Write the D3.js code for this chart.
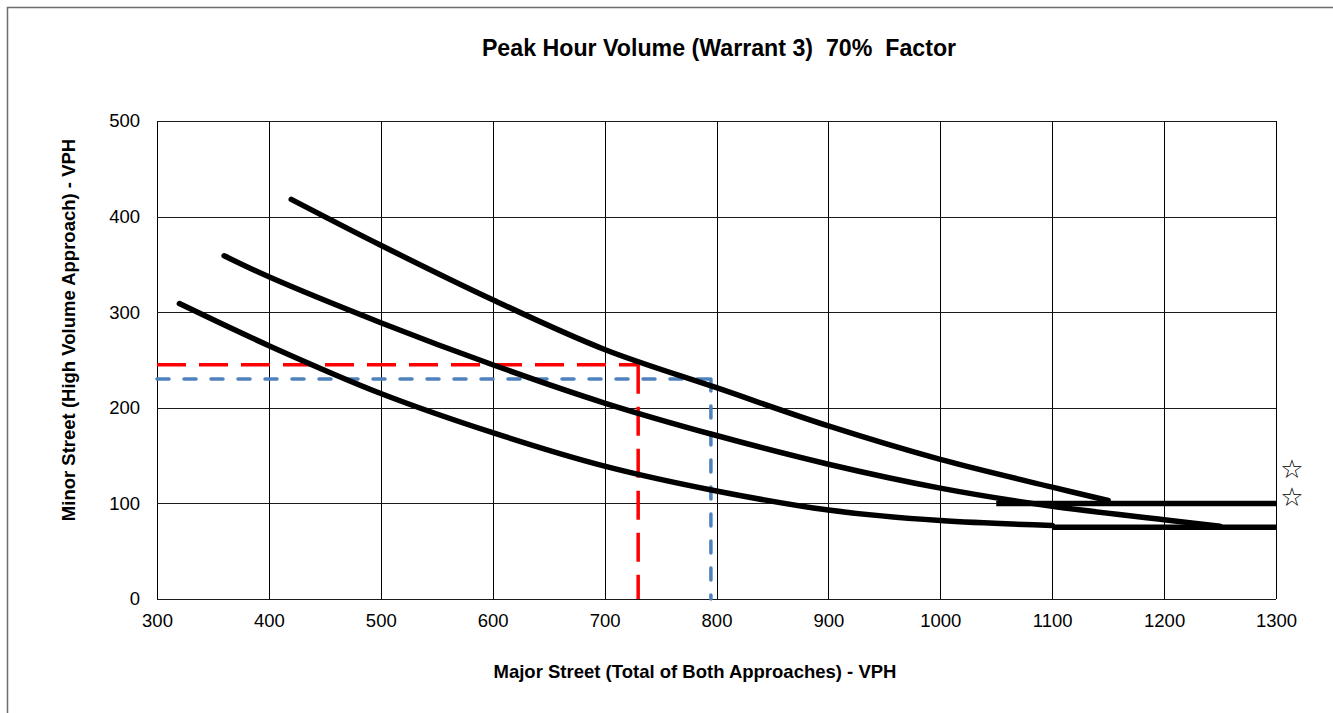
<!DOCTYPE html>
<html>
<head>
<meta charset="utf-8">
<script src="https://cdn.jsdelivr.net/npm/d3@7"></script>
<style>
  html, body { margin: 0; padding: 0; background: #fff; }
  svg { display: block; font-family: Arial, Helvetica, sans-serif; }
</style>
</head>
<body>
<svg id="chart" width="1333" height="713"></svg>
<script>
// Warrant 3 peak-hour threshold curves (70% factor), VPH
const xTicks = [300, 400, 500, 600, 700, 800, 900, 1000, 1100, 1200, 1300];
const yTicks = [0, 100, 200, 300, 400, 500];

// 2 or more lanes & 2 or more lanes
const curveTopMajor = [420, 500, 600, 700, 800, 900, 1000, 1100, 1150];
const curveTopMinor = [418, 370, 313, 261, 221, 181, 146, 117, 103];
// 2 or more lanes & 1 lane
const curveMidMajor = [360, 400, 500, 600, 700, 800, 900, 1000, 1100, 1200, 1250];
const curveMidMinor = [359, 337, 289, 245, 205, 171, 141, 116, 97, 83, 76];
// 1 lane & 1 lane
const curveLowMajor = [320, 400, 500, 600, 700, 800, 900, 1000, 1100];
const curveLowMinor = [309, 265, 215, 174, 139, 113, 93, 82, 77];

// minimum minor-street thresholds
const floorHighMajor = [1050, 1300];
const floorHighMinor = [100, 100];
const floorLowMajor = [1100, 1300];
const floorLowMinor = [75, 75];

// plotted study points
const pointRed = { major: 730, minor: 245 };
const pointBlue = { major: 795, minor: 230 };

const FONT = "Arial, Helvetica, sans-serif";
const svg = d3.select("#chart");

// outer frame
svg.append("rect")
  .attr("x", 7.5).attr("y", 7.5)
  .attr("width", 1340).attr("height", 720)
  .attr("fill", "none").attr("stroke", "#6e6e6e").attr("stroke-width", 1.5);

const x = d3.scaleLinear().domain([300, 1300]).range([157, 1276]);
const y = d3.scaleLinear().domain([0, 500]).range([599, 121]);

// grid
const grid = svg.append("g");
grid.selectAll("line.v").data(xTicks).join("line")
  .attr("class", "v")
  .attr("x1", d => Math.round(x(d)) + 0.5).attr("x2", d => Math.round(x(d)) + 0.5)
  .attr("y1", y(0)).attr("y2", y(500))
  .attr("stroke", "#000").attr("stroke-width", 1);
grid.selectAll("line.h").data(yTicks).join("line")
  .attr("class", "h")
  .attr("y1", d => Math.round(y(d)) + 0.5).attr("y2", d => Math.round(y(d)) + 0.5)
  .attr("x1", x(300)).attr("x2", x(1300))
  .attr("stroke", "#1a1a1a").attr("stroke-width", 1);

// tick labels via d3 axes (no domain / tick lines)
const xAxis = svg.append("g")
  .attr("transform", `translate(0,${y(0)})`)
  .call(d3.axisBottom(x).tickValues(xTicks).tickSize(0).tickPadding(15).tickFormat(d3.format("d")));
const yAxis = svg.append("g")
  .attr("transform", `translate(${x(300)},0)`)
  .call(d3.axisLeft(y).tickValues(yTicks).tickSize(0).tickPadding(17).tickFormat(d3.format("d")));
[xAxis, yAxis].forEach(a => {
  a.select(".domain").remove();
  a.attr("font-family", FONT).attr("font-size", 18.5);
  a.selectAll("text").attr("fill", "#000");
});

// dashed guides
const guide = (pt, color, dash, cap, width) => {
  const g = svg.append("g");
  g.append("line")
    .attr("x1", x(300)).attr("x2", x(pt.major))
    .attr("y1", y(pt.minor)).attr("y2", y(pt.minor))
    .attr("stroke", color).attr("stroke-width", width)
    .attr("stroke-dasharray", dash).attr("stroke-linecap", cap);
  g.append("line")
    .attr("x1", x(pt.major)).attr("x2", x(pt.major))
    .attr("y1", y(pt.minor)).attr("y2", y(0))
    .attr("stroke", color).attr("stroke-width", width)
    .attr("stroke-dasharray", dash).attr("stroke-linecap", cap);
};
guide(pointRed, "#ff0000", "29,13", "butt", 3.5);
guide(pointBlue, "#4f81bd", "12,15", "round", 3.5);

// threshold curves
const smooth = d3.line().x(d => x(d[0])).y(d => y(d[1])).curve(d3.curveCatmullRom.alpha(0.5));
const curves = [
  d3.zip(curveTopMajor, curveTopMinor),
  d3.zip(curveMidMajor, curveMidMinor),
  d3.zip(curveLowMajor, curveLowMinor),
  d3.zip(floorHighMajor, floorHighMinor),
  d3.zip(floorLowMajor, floorLowMinor)
];
svg.append("g").selectAll("path").data(curves).join("path")
  .attr("d", smooth)
  .attr("fill", "none").attr("stroke", "#000")
  .attr("stroke-width", 5.5)
  .attr("stroke-linecap", (d, i) => i < 3 ? "round" : "butt")
  .attr("stroke-linejoin", "round");

// star markers
svg.append("g").selectAll("text").data(["☆", "☆"]).join("text")
  .attr("x", 1292).attr("y", (d, i) => 478 + i * 28)
  .attr("text-anchor", "middle")
  .attr("font-family", "DejaVu Sans, sans-serif")
  .attr("font-size", 26).attr("fill", "#000")
  .text(d => d);

// titles
svg.append("text")
  .attr("x", 719).attr("y", 56)
  .attr("text-anchor", "middle")
  .attr("font-family", FONT)
  .attr("font-size", 23.2).attr("font-weight", "bold")
  .attr("xml:space", "preserve")
  .text("Peak Hour Volume (Warrant 3)  70%  Factor");

svg.append("text")
  .attr("x", 695).attr("y", 678)
  .attr("text-anchor", "middle")
  .attr("font-family", FONT)
  .attr("font-size", 18.5).attr("font-weight", "bold")
  .text("Major Street (Total of Both Approaches) - VPH");

svg.append("text")
  .attr("transform", "translate(75,330) rotate(-90)")
  .attr("text-anchor", "middle")
  .attr("font-family", FONT)
  .attr("font-size", 18.5).attr("font-weight", "bold")
  .text("Minor Street (High Volume Approach) - VPH");
</script>
</body>
</html>
